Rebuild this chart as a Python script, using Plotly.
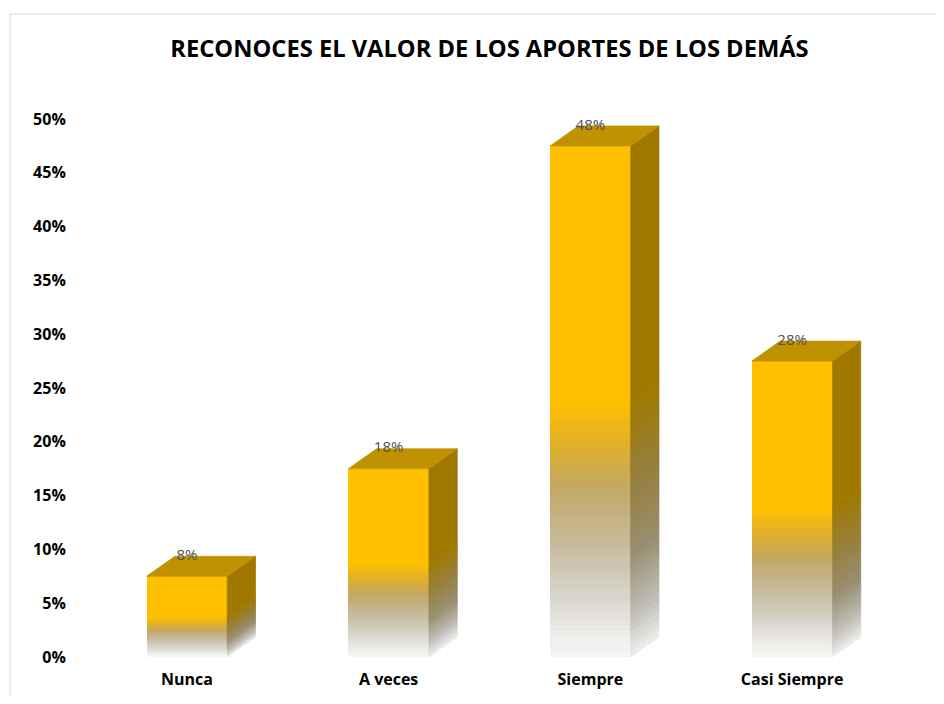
import math
import plotly.graph_objects as go

# ---- data ----
categories = ["Nunca", "A veces", "Siempre", "Casi Siempre"]
values = [0.075, 0.175, 0.475, 0.275]
y_tick_vals = [0, 0.05, 0.10, 0.15, 0.20, 0.25, 0.30, 0.35, 0.40, 0.45, 0.50]
y_tick_text = ["0%", "5%", "10%", "15%", "20%", "25%", "30%", "35%", "40%", "45%", "50%"]
title_text = "RECONOCES EL VALOR DE LOS APORTES DE LOS DEMÁS"

# ---- style ----
BAR_W = 0.4          # front face width (category units)
DX = 0.14            # 3D depth offset in x (category units)
DY = 0.0186          # 3D depth offset in y (data units)
N_SEG = 40           # gradient segments for the lower half

front_stops = [(0.0, (246, 246, 246)), (0.04, (238, 238, 236)), (0.12, (216, 213, 202)),
               (0.22, (197, 187, 158)), (0.33, (194, 168, 100)), (0.42, (226, 176, 40)),
               (0.50, (255, 192, 0))]
side_stops = [(0.0, (238, 238, 238)), (0.08, (192, 190, 182)), (0.2, (152, 142, 112)),
              (0.35, (150, 126, 56)), (0.5, (160, 120, 0))]
TOP_COLOR = "rgb(192,145,0)"
FRONT_COLOR = "rgb(255,192,0)"
SIDE_COLOR = "rgb(160,120,0)"


def interp(stops, f):
    for (f0, c0), (f1, c1) in zip(stops[:-1], stops[1:]):
        if f0 <= f <= f1:
            t = (f - f0) / (f1 - f0) if f1 > f0 else 0
            c = [round(a + (b - a) * t) for a, b in zip(c0, c1)]
            return "rgb(%d,%d,%d)" % tuple(c)
    c = stops[-1][1]
    return "rgb(%d,%d,%d)" % c


xs = list(range(len(categories)))
fig = go.Figure()

# front faces: full gold bar, then gradient layers from top fraction down, each covering 0..f1
fig.add_trace(go.Bar(x=xs, y=values, width=BAR_W,
                     marker=dict(color=FRONT_COLOR, line=dict(width=0)),
                     hovertext=[f"{c}: {v:.1%}" for c, v in zip(categories, values)],
                     hoverinfo="text", showlegend=False))
for k in reversed(range(N_SEG)):
    f0 = 0.5 * k / N_SEG
    f1 = 0.5 * (k + 1) / N_SEG
    col = interp(front_stops, (f0 + f1) / 2)
    fig.add_trace(go.Bar(x=xs, y=[v * f1 for v in values],
                         width=BAR_W, marker=dict(color=col, line=dict(width=0)),
                         hoverinfo="skip", showlegend=False))


# side faces (non-overlapping segments; thin own-colour outline hides seams)
def side_trace(f0, f1, col):
    px, py = [], []
    for i, v in zip(xs, values):
        xr = i + BAR_W / 2
        px += [xr, xr + DX, xr + DX, xr, xr, None]
        py += [v * f0, v * f0 + DY, v * f1 + DY, v * f1, v * f0, None]
    return go.Scatter(x=px, y=py, mode="lines", fill="toself", fillcolor=col,
                      line=dict(width=0.8, color=col), hoverinfo="skip", showlegend=False)


fig.add_trace(side_trace(0.5, 1.0, SIDE_COLOR))
for k in range(N_SEG):
    f0 = 0.5 * k / N_SEG
    f1 = 0.5 * (k + 1) / N_SEG
    fig.add_trace(side_trace(f0, f1, interp(side_stops, (f0 + f1) / 2)))

# top faces
tx, ty = [], []
for i, v in zip(xs, values):
    xl = i - BAR_W / 2
    xr = i + BAR_W / 2
    tx += [xl, xl + DX, xr + DX, xr, xl, None]
    ty += [v, v + DY, v + DY, v, v, None]
fig.add_trace(go.Scatter(x=tx, y=ty, mode="lines", fill="toself", fillcolor=TOP_COLOR,
                         line=dict(width=0.6, color=TOP_COLOR), hoverinfo="skip", showlegend=False))

# value labels
labels = [f"{math.floor(v * 100 + 0.5 + 1e-9):d}%" for v in values]
fig.add_trace(go.Scatter(x=xs, y=[v + DY for v in values], mode="text", text=labels,
                         textposition="middle center",
                         textfont=dict(family="Open Sans", size=15, color="#505050"),
                         hoverinfo="skip", showlegend=False, cliponaxis=False))

# page body adds an 8px margin, so the figure is laid out 8px smaller/shifted
OFF = 8
W, H = 944 - 2 * OFF, 704 - 2 * OFF
L, T = 86 - OFF, 119 - OFF
R = W - (893 - OFF)
B = H - (657 - OFF)
pw, ph = W - L - R, H - T - B
fig.update_layout(
    width=W, height=H,
    margin=dict(l=L, r=R, t=T, b=B, autoexpand=False),
    paper_bgcolor="white", plot_bgcolor="white",
    barmode="overlay", bargap=0,
    title=dict(text=title_text, x=0.5, xanchor="center", xref="paper",
               y=1 - (49 - OFF) / H, yanchor="middle", yref="container", automargin=False,
               font=dict(family="Open Sans", size=23.7, color="#000000", weight="bold")),
    xaxis=dict(range=[-0.5, 3.5], tickvals=xs, ticktext=categories, showgrid=False,
               zeroline=False, showline=False, ticks="outside", ticklen=8,
               tickcolor="rgba(0,0,0,0)", automargin=False,
               tickfont=dict(family="Open Sans", size=16, color="#000000", weight="bold")),
    yaxis=dict(range=[0, 0.5], tickvals=y_tick_vals, ticktext=y_tick_text, showgrid=False,
               zeroline=False, showline=False, ticks="outside", ticklen=16,
               tickcolor="rgba(0,0,0,0)", automargin=False,
               tickfont=dict(family="Open Sans", size=16, color="#000000", weight="bold")),
    shapes=[dict(type="rect", xref="paper", yref="paper",
                 x0=(10 - OFF - L) / pw, x1=(W + 20 - L) / pw,
                 y0=-(H + 20 - (H - B)) / ph, y1=((H - B) - (14 - OFF)) / ph,
                 line=dict(color="#D9D9D9", width=1), fillcolor="rgba(0,0,0,0)",
                 layer="below")],
)

fig.write_html("out.html")
